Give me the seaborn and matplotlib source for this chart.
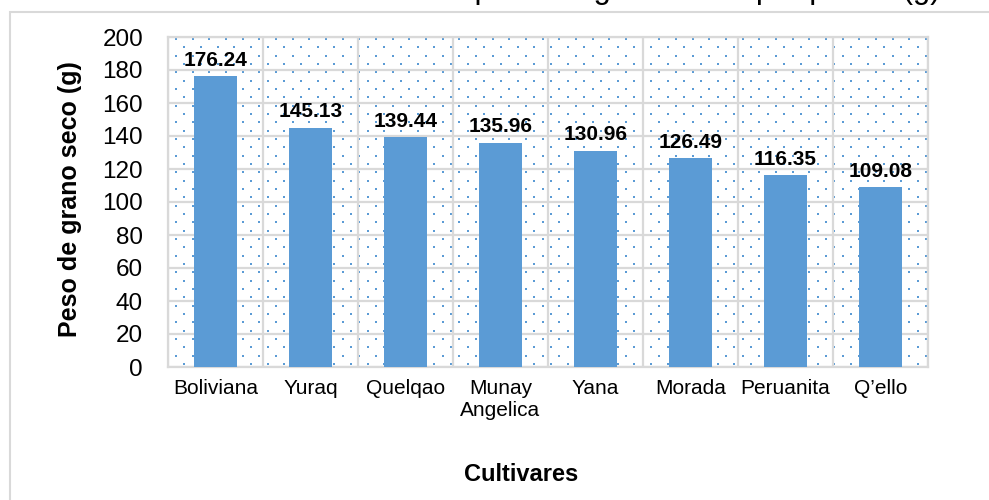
import numpy as np
import pandas as pd
import matplotlib
matplotlib.use("Agg")
import matplotlib.pyplot as plt
import seaborn as sns
from matplotlib.patches import Rectangle

cultivars = ["Boliviana", "Yuraq", "Quelqao", "Munay\nAngelica", "Yana",
             "Morada", "Peruanita", "Q\u2019ello"]
weights = [176.24, 145.13, 139.44, 135.96, 130.96, 126.49, 116.35, 109.08]
y_ticks = [0, 20, 40, 60, 80, 100, 120, 140, 160, 180, 200]

title_text = "Promedio de peso de grano seco por planta (g)"
y_label = "Peso de grano seco (g)"
x_label = "Cultivares"

sns.set_style("white")
plt.rcParams["font.family"] = ["Liberation Sans", "DejaVu Sans"]

BAR = "#5B9BD5"
GRID = "#d9d9d9"

W, H = 989, 500
fig = plt.figure(figsize=(W / 100, H / 100), dpi=100)
ax_l, ax_r, ax_t, ax_b = 168, 928, 37, 367
ax = fig.add_axes([ax_l / W, (H - ax_b) / H, (ax_r - ax_l) / W, (ax_b - ax_t) / H])

df = pd.DataFrame({"Cultivar": cultivars, "Peso": weights})
sns.barplot(data=df, x="Cultivar", y="Peso", color=BAR, saturation=1,
            width=0.45, ax=ax, zorder=3, linewidth=0)

ax.set_xlim(-0.5, len(cultivars) - 0.5)
ax.set_ylim(0, 200)
ax.set_yticks(y_ticks)
ax.set_yticklabels([str(t) for t in y_ticks])

# background dotted texture (Excel-like pattern fill)
pw, ph = ax_r - ax_l, ax_b - ax_t
sx, sy = 16.67, 8.33
pts_x, pts_y = [], []
for j, yy in enumerate(np.arange(2.0, ph, sy)):
    off = 8.0 if j % 2 == 0 else 8.0 + sx / 2
    for xx in np.arange(off, pw, sx):
        pts_x.append(xx / pw)
        pts_y.append(1 - yy / ph)
ax.scatter(pts_x, pts_y, transform=ax.transAxes, s=2.2, marker="s",
           color=BAR, linewidths=0, zorder=0.4, clip_on=True)

# gridlines
ax.set_axisbelow(True)
ax.yaxis.grid(True, color=GRID, linewidth=1.6, zorder=0.5)
ax.set_xticks(np.arange(-0.5, len(cultivars), 1.0), minor=True)
ax.xaxis.grid(True, which="minor", color=GRID, linewidth=1.6, zorder=0.5)
ax.xaxis.grid(False, which="major")
for s in ax.spines.values():
    s.set_visible(True)
    s.set_color(GRID)
    s.set_linewidth(1.6)

ax.tick_params(axis="y", length=0, pad=18, labelsize=17.5, labelcolor="#000000")
ax.tick_params(axis="x", which="both", length=0, pad=9, labelsize=15, labelcolor="#000000")
for lab in ax.get_xticklabels():
    lab.set_linespacing(1.15)

# data labels
for i, v in enumerate(weights):
    ax.annotate(f"{v:.2f}", xy=(i, v), xytext=(0, 7.5), textcoords="offset points",
                ha="center", va="baseline", fontsize=15, fontweight="bold", color="#000000")

ax.set_xlabel(x_label, fontsize=17, fontweight="bold", color="#000000")
ax.xaxis.set_label_coords((521 - ax_l) / pw, (ax_b - 481) / ph)
ax.xaxis.label.set_va("baseline")
ax.set_ylabel(y_label, fontsize=18, fontweight="bold", color="#000000")
ax.yaxis.set_label_coords((70 - ax_l) / pw, (ax_b - 199) / ph)
ax.yaxis.label.set_va("center")

# outer chart frame
fig.add_artist(Rectangle((10 / W, -0.2), 1.5, 1.2 - 12 / H, transform=fig.transFigure,
                         fill=False, edgecolor=GRID, linewidth=1.5))

# title (cut off at top in the reference)
fig.text(940 / W, 1 + 2 / H, title_text, ha="right", va="baseline",
         fontsize=22.3, color="#000000")

fig.savefig("out.png", dpi=100)
